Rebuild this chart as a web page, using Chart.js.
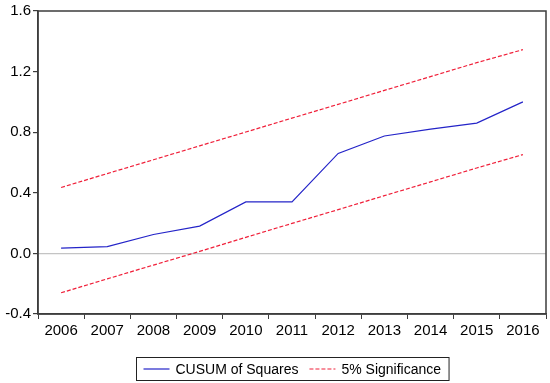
<!DOCTYPE html>
<html>
<head>
<meta charset="utf-8">
<script src="https://cdn.jsdelivr.net/npm/chart.js@4"></script>
<style>
    html, body { margin: 0; padding: 0; background: #fff; }
    #wrap { width: 550px; height: 383px; }
</style>
</head>
<body>
<div id="wrap"><canvas id="cusumChart" width="550" height="383"></canvas></div>
<script>
const years = ["2006", "2007", "2008", "2009", "2010", "2011", "2012", "2013", "2014", "2015", "2016"]
const cusumValues = [0.035, 0.045, 0.125, 0.18, 0.34, 0.34, 0.66, 0.775, 0.82, 0.86, 1.0]
const upperBound = [0.435, 0.527, 0.618, 0.710, 0.801, 0.893, 0.984, 1.076, 1.167, 1.259, 1.345]
const lowerBound = [-0.26, -0.168, -0.077, 0.013, 0.106, 0.198, 0.289, 0.381, 0.472, 0.564, 0.652]
const legendLabels = ["CUSUM of Squares", "5% Significance"]

const blue = "#2424c8"
const red = "#f0203a"
const frameColor = "#3c3c3c"
const fontFamily = "'Liberation Sans', Arial, sans-serif"

// frame round the plot + boxed legend underneath, like the EViews output
const framePlugin = {
    id: "frameAndLegend",
    afterDraw(chart) {
        const {ctx, chartArea} = chart
        ctx.save()
        ctx.strokeStyle = frameColor
        ctx.lineWidth = 1.5
        ctx.strokeRect(chartArea.left, chartArea.top, chartArea.right - chartArea.left, chartArea.bottom - chartArea.top)

        ctx.font = "14px " + fontFamily
        const sample = 26
        const gap = 6
        const between = 11
        const w0 = ctx.measureText(legendLabels[0]).width
        const w1 = ctx.measureText(legendLabels[1]).width
        const boxW = 7 + sample + gap + w0 + between + sample + gap + w1 + 8
        const boxH = 23
        const cx = (chartArea.left + chartArea.right) / 2
        const bx = Math.round(cx - boxW / 2) + 0.5
        const by = 357.5
        ctx.lineWidth = 1
        ctx.strokeStyle = "#222"
        ctx.strokeRect(bx, by, boxW, boxH)

        const midY = by + boxH / 2
        let x = bx + 7
        ctx.strokeStyle = blue
        ctx.lineWidth = 1.2
        ctx.beginPath()
        ctx.moveTo(x, midY)
        ctx.lineTo(x + sample, midY)
        ctx.stroke()
        x += sample + gap
        ctx.fillStyle = "#000"
        ctx.textBaseline = "middle"
        ctx.fillText(legendLabels[0], x, midY + 1)
        x += w0 + between
        ctx.strokeStyle = red
        ctx.setLineDash([4, 2])
        ctx.beginPath()
        ctx.moveTo(x, midY)
        ctx.lineTo(x + sample, midY)
        ctx.stroke()
        ctx.setLineDash([])
        x += sample + gap
        ctx.fillText(legendLabels[1], x, midY + 1)
        ctx.restore()
    }
}

const makeLine = (label, data, color, dash) => {
    return {
        label: label,
        data: data,
        borderColor: color,
        borderWidth: 1.2,
        borderDash: dash,
        pointRadius: 0,
        fill: false,
        tension: 0
    }
}

const chartConfig = {
    type: "line",
    data: {
        labels: years,
        datasets: [
            makeLine(legendLabels[0], cusumValues, blue, []),
            makeLine(legendLabels[1], upperBound, red, [4, 2]),
            makeLine(legendLabels[1], lowerBound, red, [4, 2])
        ]
    },
    options: {
        responsive: false,
        animation: false,
        layout: {
            padding: {top: 10, right: 4, bottom: 40, left: 0}
        },
        scales: {
            x: {
                offset: true,
                grid: {
                    offset: true,
                    drawOnChartArea: false,
                    tickLength: 5,
                    tickColor: frameColor
                },
                border: {color: frameColor, width: 1.5},
                ticks: {
                    color: "#000",
                    padding: 3,
                    maxRotation: 0,
                    autoSkip: false,
                    font: {size: 15, family: fontFamily}
                },
                afterFit: (scale) => { scale.height = 29 }
            },
            y: {
                min: -0.4,
                max: 1.6,
                grid: {
                    color: (ctx) => ctx.tick && ctx.tick.value === 0 ? "#c4c4c4" : "transparent",
                    tickColor: frameColor,
                    tickLength: 5,
                    lineWidth: 1.2
                },
                border: {color: frameColor, width: 1.5},
                ticks: {
                    stepSize: 0.4,
                    color: "#000",
                    padding: 2,
                    font: {size: 15, family: fontFamily},
                    callback: (value) => value.toFixed(1)
                },
                afterFit: (scale) => { scale.width = 38 }
            }
        },
        plugins: {
            legend: {display: false},
            tooltip: {enabled: false}
        }
    },
    plugins: [framePlugin]
}

new Chart(document.getElementById("cusumChart"), chartConfig)
</script>
</body>
</html>
